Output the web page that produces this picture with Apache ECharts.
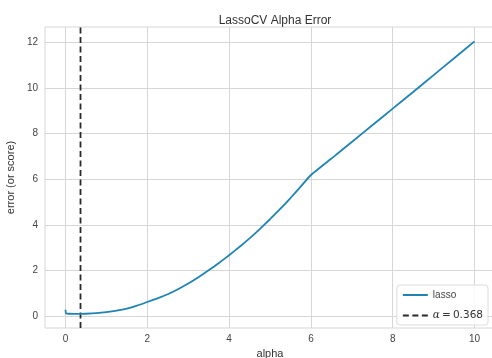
<!DOCTYPE html>
<html>
<head>
<meta charset="utf-8">
<script src="https://cdn.jsdelivr.net/npm/echarts@6/dist/echarts.min.js"></script>
<style>
  html, body { margin: 0; padding: 0; background: #fff; }
  #chart { width: 492px; height: 358px; }
</style>
</head>
<body>
<div id="chart"></div>
<script>
// Alpha values tested by LassoCV and the mean cross-validated error for each
const alphas = [0, 0.01, 0.03, 0.1, 0.2, 0.368, 0.5, 0.75, 1.0, 1.25, 1.5, 1.75,
  2.0, 2.25, 2.5, 2.75, 3.0, 3.25, 3.5, 3.75, 4.0, 4.25, 4.5, 4.75, 5.0, 5.25,
  5.5, 5.75, 6.0, 6.5, 7.0, 7.5, 8.0, 8.5, 9.0, 9.5, 10.0];
const errors = [0.28, 0.14, 0.11, 0.105, 0.10, 0.10, 0.105, 0.13, 0.175, 0.24, 0.33, 0.46,
  0.62, 0.78, 0.96, 1.18, 1.43, 1.71, 2.01, 2.33, 2.67, 3.03, 3.41, 3.82, 4.25, 4.70,
  5.18, 5.68, 6.19, 6.91, 7.64, 8.37, 9.10, 9.83, 10.57, 11.31, 12.05];

// Selected alpha
const bestAlpha = 0.368;

// Tick labels
const xTicks = [0, 2, 4, 6, 8, 10];
const yTicks = [0, 2, 4, 6, 8, 10, 12];

const xMin = -0.5, xMax = 10.5;
const yMin = -0.52, yMax = 12.68;

const gridColor = '#d6d6d6';
const textColor = '#444';
const font = 'Liberation Sans, Arial, sans-serif';

const chart = echarts.init(document.getElementById('chart'), null, { renderer: 'canvas' });

chart.setOption({
  animation: false,
  backgroundColor: '#fff',
  title: {
    text: 'LassoCV Alpha Error',
    left: 270, top: 10, textAlign: 'center',
    textStyle: { fontFamily: font, fontSize: 12, fontWeight: 'normal', color: '#333' }
  },
  grid: {
    left: 45, top: 27, width: 450, height: 301,
    outerBoundsMode: 'none', containLabel: false,
    show: true, borderColor: gridColor, borderWidth: 1, backgroundColor: '#fff'
  },
  legend: {
    orient: 'vertical', right: 4, bottom: 33,
    itemWidth: 25, itemHeight: 10, itemGap: 10,
    padding: [5, 5, 4, 5],
    borderColor: '#dcdcdc', borderWidth: 1, borderRadius: 3,
    backgroundColor: 'rgba(255,255,255,0.85)',
    itemStyle: { opacity: 0 },
    textStyle: { fontFamily: font, fontSize: 10, color: textColor,
      rich: { a: { fontFamily: 'DejaVu Serif', fontStyle: 'italic', fontSize: 10.5, color: '#333' },
              n: { fontFamily: 'DejaVu Sans', fontSize: 10.5, color: '#333' } } },
    formatter: function (name) {
      if (name === 'lasso') return name;
      return '{a|α}{n|\u2009=\u2009' + bestAlpha.toFixed(3) + '}';
    },
    data: ['lasso', 'alpha']
  },
  xAxis: {
    type: 'value', min: xMin, max: xMax,
    name: 'alpha', nameLocation: 'middle', nameGap: 18,
    nameTextStyle: { fontFamily: font, fontSize: 11, color: '#333' },
    axisLine: { show: false },
    axisTick: { show: false, customValues: xTicks },
    axisLabel: { customValues: xTicks, fontFamily: font, fontSize: 10, color: textColor, margin: 6 },
    splitLine: { show: true, lineStyle: { color: gridColor, width: 1 } }
  },
  yAxis: {
    type: 'value', min: yMin, max: yMax,
    name: 'error (or score)', nameLocation: 'middle', nameGap: 28,
    nameTextStyle: { fontFamily: font, fontSize: 11, color: '#333' },
    axisLine: { show: false },
    axisTick: { show: false, customValues: yTicks },
    axisLabel: { customValues: yTicks, fontFamily: font, fontSize: 10, color: textColor, margin: 7 },
    splitLine: { show: true, lineStyle: { color: gridColor, width: 1 } }
  },
  series: [
    {
      name: 'lasso', type: 'line', showSymbol: false, symbol: 'none', smooth: 0.15,
      data: alphas.map((a, i) => [a, errors[i]]),
      lineStyle: { color: '#1f84b4', width: 1.8 },
      itemStyle: { color: '#1f84b4' },
      z: 3
    },
    {
      name: 'alpha', type: 'line', showSymbol: false, symbol: 'none',
      data: [[bestAlpha, yMin], [bestAlpha, yMax]],
      lineStyle: { color: '#2a2a2a', width: 1.8, type: [6, 3.5] },
      itemStyle: { color: '#2a2a2a' },
      z: 2
    }
  ]
});
</script>
</body>
</html>
